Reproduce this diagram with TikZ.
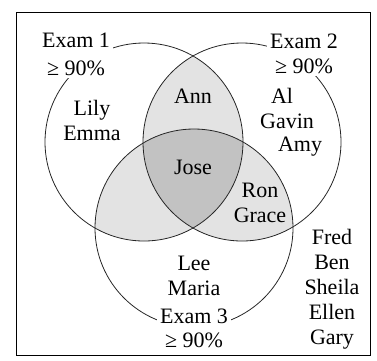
\documentclass[tikz,border=0pt]{standalone}
\usepackage{fontspec}
\setmainfont{Liberation Serif}
\begin{document}
\begin{tikzpicture}[x=1pt,y=-1pt,
  txt/.style={font=\fontsize{22}{25}\selectfont, inner sep=0pt, align=center, anchor=base},
  examlbl/.style={txt, fill=white, inner xsep=3pt, inner ysep=3pt},
  ring/.style={draw=black!85, line width=0.8pt},
  light/.style={fill=gray!22},
  dark/.style={fill=gray!48}]
\useasboundingbox (0,0) rectangle (377,360);
\coordinate (c1) at (144,142);
\coordinate (c2) at (242,142);
\coordinate (c3) at (194,228);
\coordinate (f1) at (16,12);
\coordinate (f2) at (370,355);
% pairwise overlaps
\begin{scope}
  \clip (c1) circle[radius=99pt];
  \fill[light] (c2) circle[radius=99pt];
  \fill[light] (c3) circle[radius=99pt];
\end{scope}
\begin{scope}
  \clip (c2) circle[radius=99pt];
  \fill[light] (c3) circle[radius=99pt];
\end{scope}
% triple overlap
\begin{scope}
  \clip (c1) circle[radius=99pt];
  \clip (c2) circle[radius=99pt];
  \fill[dark] (c3) circle[radius=99pt];
\end{scope}
\draw[ring] (c1) circle[radius=99pt];
\draw[ring] (c2) circle[radius=99pt];
\draw[ring] (c3) circle[radius=99pt];
\draw[line width=0.8pt] (f1) rectangle (f2);
% labels (base anchor = baseline of last line)
\node[examlbl, font=\fontsize{22}{28}\selectfont] (e1) at (76,75) {Exam 1\\≥ 90\%};
\node[examlbl, font=\fontsize{22}{25}\selectfont] (e2) at (304,73) {Exam 2\\≥ 90\%};
\node[examlbl, font=\fontsize{22}{24}\selectfont] (e3) at (194,347) {Exam 3\\≥ 90\%};
\node[txt] (lily) at (92,140) {Lily\\Emma};
\node[txt] (ann) at (193,103) {Ann};
\node[txt] (al) at (282,103) {Al};
\node[txt] (gavin) at (287,128) {Gavin};
\node[txt] (amy) at (300,151) {Amy};
\node[txt] (jose) at (193,174) {Jose};
\node[txt] (ron) at (260,222) {Ron\\Grace};
\node[txt] (lee) at (194,295) {Lee\\Maria};
\node[txt] (fred) at (332,344) {Fred\\Ben\\Sheila\\Ellen\\Gary};
\end{tikzpicture}
\end{document}
